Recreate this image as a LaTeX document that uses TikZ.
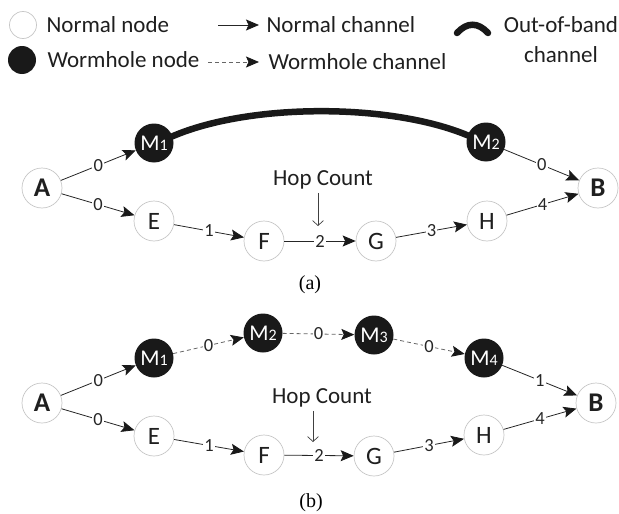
\documentclass[tikz,border=0pt]{standalone}
\usepackage{fontspec}
\setmainfont{Carlito}
\newfontfamily\capfont{Liberation Serif}
\usetikzlibrary{arrows.meta}

\newcommand{\idx}[1]{{\fontsize{16}{16}\selectfont #1}}

\begin{document}
\begin{tikzpicture}[x=1pt, y=-1pt,
		normal/.style={circle, draw=black!22, fill=white, line width=0.7pt, minimum size=40pt, inner sep=0pt, text=black!88, font=\fontsize{25}{25}\selectfont},
		worm/.style={circle, fill=black!90, text=white, minimum size=39pt, inner sep=0pt, font=\fontsize{22.5}{22.5}\selectfont},
		chan/.style={-{Stealth[length=13pt, width=11pt, inset=2.5pt, color=black!90]}, line width=0.8pt, draw=black!85},
		wchan/.style={chan, dash pattern=on 4pt off 3pt, draw=black!60},
		oob/.style={line width=6.5pt, line cap=round, draw=black!90},
		hop/.style={-{Straight Barb[length=5pt, width=11pt]}, line width=0.7pt, draw=black!75},
		lbl/.style={fill=white, inner sep=1.2pt, text=black!85, font=\fontsize{18.5}{18.5}\selectfont},
		txt/.style={text=black!88, font=\fontsize{23}{30}\selectfont},
		subcap/.style={font=\capfont\fontsize{20}{20}\selectfont}]
	\useasboundingbox (0, 0) rectangle (619, 514);

	% legend
	\node[normal, minimum size=27pt]	(lgN) at (23, 25) {};
	\node[worm, minimum size=28pt]		(lgW) at (22, 60) {};
	\node[txt, anchor=west]	(lgNt) at (43, 25) {Normal node};
	\node[txt, anchor=west]	(lgWt) at (44, 60) {Wormhole node};
	\node[txt, anchor=west]	(lgCt) at (263, 25) {Normal channel};
	\node[txt, anchor=west]	(lgDt) at (265, 62) {Wormhole channel};
	\node[txt, align=center]	(lgOt) at (561, 40) {Out-of-band\\channel};
	\coordinate (lgC) at (218, 25);
	\coordinate (lgD) at (208, 62);
	\draw[chan, shorten >=4pt]	(lgC) -- (lgCt);
	\draw[wchan, shorten >=6pt]	(lgD) -- (lgDt);
	\coordinate (lgO1) at (457, 33);
	\coordinate (lgO2) at (488, 33);
	\draw[oob]	(lgO1) .. controls (467, 22) and (478, 22) .. (lgO2);

	% (a) out-of-band wormhole
	\node[normal, font=\fontsize{27}{27}\selectfont\bfseries]	(aA) at (42, 188) {A};
	\node[normal, font=\fontsize{27}{27}\selectfont\bfseries]	(aB) at (598, 188) {B};
	\node[worm]		(aM1) at (154, 143) {M\idx{1}};
	\node[worm]		(aM2) at (486, 142) {M\idx{2}};
	\node[normal]	(aE) at (154, 221) {E};
	\node[normal]	(aF) at (264, 241) {F};
	\node[normal]	(aG) at (376, 241) {G};
	\node[normal]	(aH) at (487, 221) {H};

	\draw[chan]	(aA) to node[lbl]{0} (aM1);
	\draw[chan]	(aA) to node[lbl]{0} (aE);
	\draw[chan]	(aE) to node[lbl]{1} (aF);
	\draw[chan]	(aF) to node[lbl]{2} (aG);
	\draw[chan]	(aG) to node[lbl]{3} (aH);
	\draw[chan]	(aH) to node[lbl]{4} (aB);
	\draw[chan]	(aM2) to node[lbl]{0} (aB);
	\draw[oob]	(aM1.20) .. controls (250, 103) and (390, 103) .. (aM2.160);

	\node[txt]	(aHop) at (323, 180) {Hop Count};
	\coordinate (aHopTip) at (318, 226);
	\draw[hop]	(aHop.south -| aHopTip) -- (aHopTip);

	\node[subcap]	(aCap) at (310, 285) {(a)};

	% (b) in-band wormhole
	\node[normal, font=\fontsize{27}{27}\selectfont\bfseries]	(bA) at (42, 403) {A};
	\node[normal, font=\fontsize{27}{27}\selectfont\bfseries]	(bB) at (596, 403) {B};
	\node[worm]		(bM1) at (154, 358) {M\idx{1}};
	\node[worm]		(bM2) at (263, 333) {M\idx{2}};
	\node[worm]		(bM3) at (374, 335) {M\idx{3}};
	\node[worm]		(bM4) at (484, 358) {M\idx{4}};
	\node[normal]	(bE) at (154, 436) {E};
	\node[normal]	(bF) at (264, 455) {F};
	\node[normal]	(bG) at (374, 456) {G};
	\node[normal]	(bH) at (484, 435) {H};

	\draw[chan]		(bA) to node[lbl]{0} (bM1);
	\draw[wchan]	(bM1) to node[lbl]{0} (bM2);
	\draw[wchan]	(bM2) to node[lbl]{0} (bM3);
	\draw[wchan]	(bM3) to node[lbl]{0} (bM4);
	\draw[chan]		(bM4) to node[lbl]{1} (bB);
	\draw[chan]		(bA) to node[lbl]{0} (bE);
	\draw[chan]		(bE) to node[lbl]{1} (bF);
	\draw[chan]		(bF) to node[lbl]{2} (bG);
	\draw[chan]		(bG) to node[lbl]{3} (bH);
	\draw[chan]		(bH) to node[lbl]{4} (bB);

	\node[txt]	(bHop) at (322, 398) {Hop Count};
	\coordinate (bHopTip) at (313, 442);
	\draw[hop]	(bHop.south -| bHopTip) -- (bHopTip);

	\node[subcap]	(bCap) at (311, 503) {(b)};
\end{tikzpicture}
\end{document}
